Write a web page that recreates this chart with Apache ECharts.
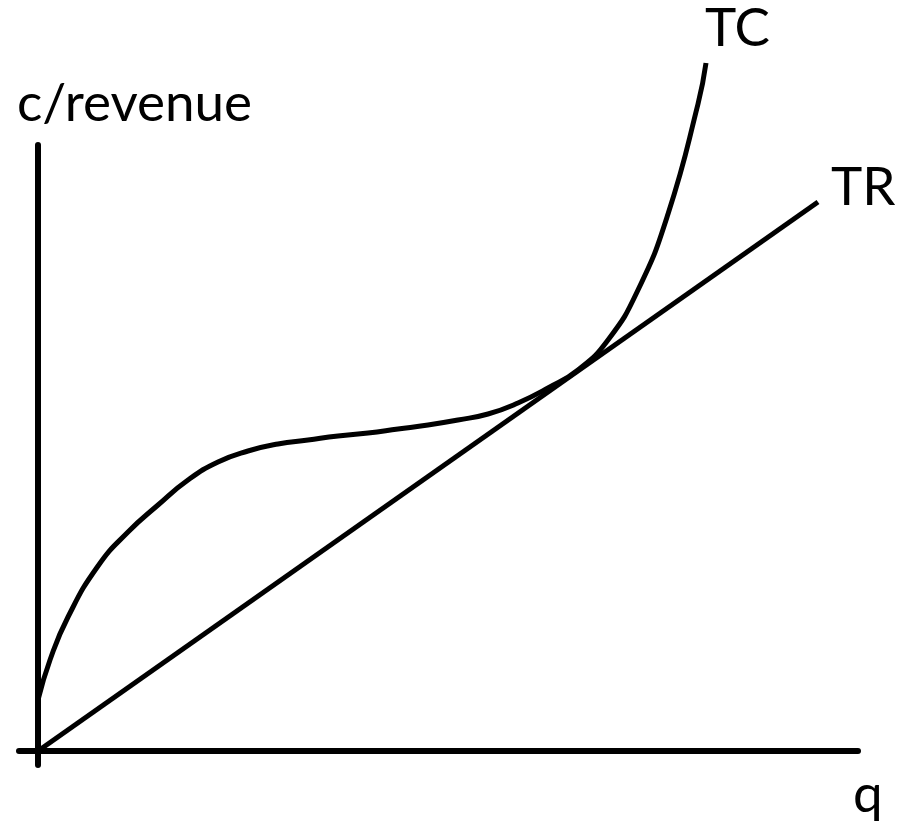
<!DOCTYPE html>
<html>
<head>
<meta charset="utf-8">
<script src="https://cdn.jsdelivr.net/npm/echarts@6/dist/echarts.min.js"></script>
<style>html,body{margin:0;padding:0;background:#fff;}#chart{width:905px;height:822px;}</style>
</head>
<body>
<div id="chart"></div>
<script>
// Quantity (q) and value readings (arbitrary units)
const tcQ = [0, 12, 30, 60, 90, 120, 150, 180, 210, 240, 270, 300, 330, 360, 390, 420, 450, 480, 510, 540, 570, 600, 630, 660, 668];
const tcV = [51, 91, 134, 185, 219, 246, 271, 289, 300, 307, 311, 315, 318, 322, 326, 331, 337, 348, 363, 381, 411, 461, 537, 647, 688];
const trQ = [0, 780];
const trV = [0, 549];
const seriesNames = ['TC', 'TR'];
const axisNames = { x: 'q', y: 'c/revenue' };

const font = 'Lato';
const fs = 53;
const chart = echarts.init(document.getElementById('chart'));
chart.setOption({
  animation: false,
  backgroundColor: '#fff',
  title: [
    { text: axisNames.y, left: 17, top: 77, textStyle: { fontFamily: font, fontSize: fs, fontWeight: 'normal', color: '#000' }, padding: 0 },
    { text: axisNames.x, left: 853, top: 768, textStyle: { fontFamily: font, fontSize: fs, fontWeight: 'normal', color: '#000' }, padding: 0 }
  ],
  grid: { left: 19, right: 47, top: 145, bottom: 57, containLabel: false },
  xAxis: {
    type: 'value', min: -19, max: 820,
    axisLine: { show: true, onZero: true, lineStyle: { color: '#000', width: 6 } },
    axisTick: { show: false }, axisLabel: { show: false }, splitLine: { show: false }
  },
  yAxis: {
    type: 'value', min: -14, max: 606,
    axisLine: { show: true, onZero: true, lineStyle: { color: '#000', width: 6 } },
    axisTick: { show: false }, axisLabel: { show: false }, splitLine: { show: false }
  },
  series: [
    {
      name: seriesNames[0], type: 'line', smooth: 0.5, clip: false, symbol: 'none',
      data: tcQ.map((q, i) => [q, tcV[i]]),
      lineStyle: { color: '#000', width: 5 },
      endLabel: { show: true, formatter: '{a}', fontFamily: font, fontSize: fs, color: '#000', align: 'left', verticalAlign: 'middle', offset: [-1, -34], distance: 0 }
    },
    {
      name: seriesNames[1], type: 'line', clip: false, symbol: 'none',
      data: trQ.map((q, i) => [q, trV[i]]),
      lineStyle: { color: '#000', width: 5 },
      endLabel: { show: true, formatter: '{a}', fontFamily: font, fontSize: fs, color: '#000', align: 'left', verticalAlign: 'middle', offset: [13, -14], distance: 0 }
    }
  ]
});
</script>
</body>
</html>
